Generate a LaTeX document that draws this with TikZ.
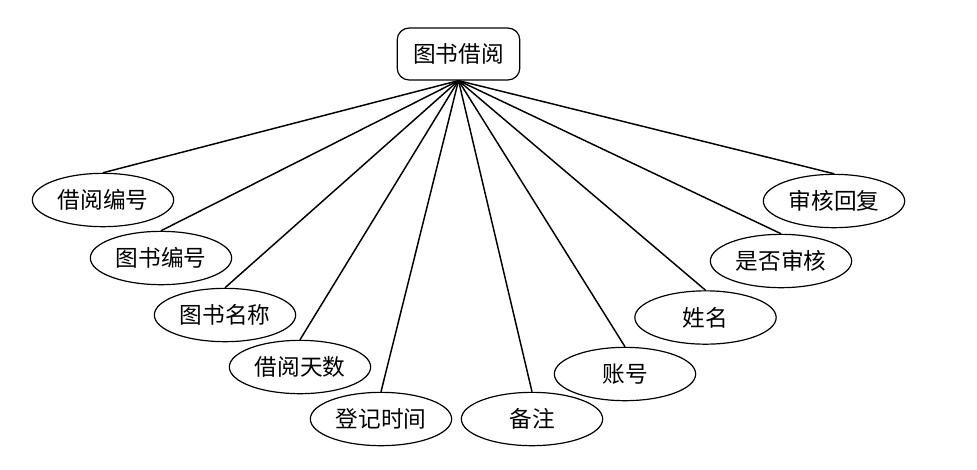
\documentclass[tikz,border=0pt]{standalone}
\usepackage{fontspec}
\newfontfamily\cjk{Noto Sans CJK SC}
\usetikzlibrary{shapes.geometric}
\begin{document}
\begin{tikzpicture}[x=0.75pt,y=-0.75pt,
  attr/.style={ellipse,draw,line width=0.9pt,minimum width=106pt,minimum height=40pt,inner sep=0pt,font=\cjk\fontsize{17}{19}\selectfont},
  ent/.style={rectangle,rounded corners=9pt,draw,line width=0.9pt,minimum width=92pt,minimum height=39pt,inner sep=0pt,font=\cjk\fontsize{17}{19}\selectfont},
  link/.style={line width=1.1pt}]
\useasboundingbox (0,0) rectangle (977,469);
\node[ent] (c) at (458.5,54) {图书借阅};
\node[attr] (a1) at (103,200) {借阅编号};
\node[attr] (a2) at (161,258) {图书编号};
\node[attr] (a3) at (225,315) {图书名称};
\node[attr] (a4) at (300,367) {借阅天数};
\node[attr] (a5) at (381,419) {登记时间};
\node[attr] (a6) at (532,419) {备注};
\node[attr] (a7) at (625,374) {账号};
\node[attr] (a8) at (705.5,317.5) {姓名};
\node[attr] (a9) at (781,261) {是否审核};
\node[attr] (a10) at (834,201) {审核回复};
\foreach \i in {1,...,10} \draw[link] (c.south) -- (a\i.north);
\end{tikzpicture}
\end{document}
